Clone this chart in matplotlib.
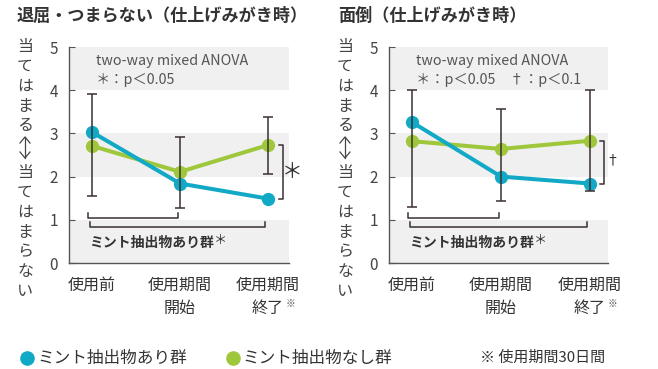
import matplotlib.pyplot as plt
from matplotlib.lines import Line2D

plt.rcParams['font.family'] = ['Noto Sans CJK JP', 'DejaVu Sans']

W, H = 658, 369

stages = ['使用前', '使用期間\n開始', '使用期間\n終了']
blue_c = '#12a9c6'
green_c = '#9fc73b'
bar_c = '#3a3030'

# 退屈・つまらない
bored_mint = [3.03, 1.84, 1.49]
bored_none = [2.71, 2.11, 2.73]
bored_hi = [3.92, 2.92, 3.38]
bored_lo = [1.55, 1.27, 2.07]

# 面倒
hassle_mint = [3.26, 2.00, 1.84]
hassle_none = [2.82, 2.64, 2.83]
hassle_hi = [4.01, 3.57, 4.00]
hassle_lo = [1.30, 1.44, 1.67]

fig = plt.figure(figsize=(W / 100, H / 100), dpi=100)


def fx(x):
    return x / W


def fy(y):
    return 1 - y / H


def panel(left, right, x0, step, mint, none, hi, lo, legend2, mark, bracket):
    ax = fig.add_axes([fx(left), fy(263), fx(right - left), fy(47) - fy(263)])
    ax.set_xlim(-(x0 - left) / step, (right - x0) / step)
    ax.set_ylim(0, 5)
    for a, b in [(0, 1), (2, 3), (4, 5)]:
        ax.axhspan(a, b, color='#f0f0f0', lw=0, zorder=0)
    for s in ['top', 'right']:
        ax.spines[s].set_visible(False)
    for s in ['left', 'bottom']:
        ax.spines[s].set_color('#555555')
        ax.spines[s].set_linewidth(1.0)
    ax.set_yticks(range(6))
    ax.tick_params(axis='y', direction='in', length=4, color='#555555',
                   labelsize=11, labelcolor='#444444', pad=8)
    ax.set_xticks(range(3))
    ax.set_xticklabels(stages, fontsize=11.5, color='#333333', linespacing=1.45)
    ax.tick_params(axis='x', length=0, pad=10)

    xs = list(range(3))
    ax.plot(xs, none, color=green_c, lw=2.9, marker='o', ms=8.5, zorder=3)
    ax.plot(xs, mint, color=blue_c, lw=2.9, marker='o', ms=8.5, zorder=4)
    err = [[n - l for n, l in zip(none, lo)], [h - n for n, h in zip(none, hi)]]
    ax.errorbar(xs, none, yerr=err, fmt='none', ecolor=bar_c, elinewidth=1.1,
                capsize=3.5, capthick=1.1, zorder=5)

    # 右側の群間比較ブラケット
    bx = bracket
    ax.plot([bx - 0.05, bx, bx, bx - 0.05], [none[2], none[2], mint[2], mint[2]],
            color=bar_c, lw=1.1, clip_on=False)
    if mark == '*':
        ax.text(bx + 0.1, (none[2] + mint[2]) / 2, '＊', fontsize=15, color='#333333',
                ha='center', va='center', clip_on=False)
    else:
        ax.text(bx + 0.09, (none[2] + mint[2]) / 2 + 0.04, '†', fontsize=10, color='#333333',
                ha='center', va='center', clip_on=False)

    # 群内比較ブラケット
    ax.plot([-0.05, -0.05, 0.98, 0.98], [1.15, 1.04, 1.04, 1.15], color=bar_c, lw=1.1)
    ax.plot([-0.02, -0.02, 1.97, 1.97], [0.94, 0.83, 0.83, 0.94], color=bar_c, lw=1.1)
    t = ax.text(-0.03, 0.46, 'ミント抽出物あり群', fontsize=10, fontweight='bold',
                color='#333333', ha='left', va='center')
    ax.annotate('＊', xy=(1, 0.5), xycoords=t, xytext=(0, 2), textcoords='offset points',
                fontsize=9.5, color='#333333', ha='left', va='center')

    ax.text(0.04, 4.68, 'two-way mixed ANOVA', fontsize=10.3, color='#555555',
            ha='left', va='center')
    ax.text(0.04, 4.24, legend2, fontsize=10.3, color='#555555', ha='left', va='center')

    # 終了の注記
    ax.annotate('※', xy=(2, 0), xycoords='data', xytext=(13, -29.5), textcoords='offset points',
                fontsize=7, color='#555555', ha='left', va='center')
    return ax


panel(69, 289, 92, 88, bored_mint, bored_none, bored_hi, bored_lo,
      '＊：p＜0.05', '*', 2.17)
panel(389, 608, 412, 89, hassle_mint, hassle_none, hassle_hi, hassle_lo,
      '＊：p＜0.05　†：p＜0.1', '+', 2.16)

fig.text(fx(17), fy(16), '退屈・つまらない（仕上げみがき時）', fontsize=12.3, fontweight='bold',
         color='#333333', ha='left', va='center')
fig.text(fx(338), fy(16), '面倒（仕上げみがき時）', fontsize=12.3, fontweight='bold',
         color='#333333', ha='left', va='center')

# 縦書きの軸ラベル（間に上下の矢印）
for lx in (25, 345):
    fig.text(fx(lx), fy(38), '当\nて\nは\nま\nる', fontsize=11.5, color='#444444',
             ha='center', va='top', linespacing=1.22)
    fig.text(fx(lx), fy(164), '当\nて\nは\nま\nら\nな\nい', fontsize=11.5, color='#444444',
             ha='center', va='top', linespacing=1.22)
    arrow_kw = dict(color='#444444', lw=0.9, transform=fig.transFigure)
    fig.add_artist(Line2D([fx(lx), fx(lx)], [fy(137), fy(158)], **arrow_kw))
    fig.add_artist(Line2D([fx(lx - 5), fx(lx), fx(lx + 5)], [fy(143), fy(137), fy(143)], **arrow_kw))
    fig.add_artist(Line2D([fx(lx - 5), fx(lx), fx(lx + 5)], [fy(152), fy(158), fy(152)], **arrow_kw))

# 凡例
fig.add_artist(Line2D([fx(27)], [fy(358)], marker='o', ms=9.5, color=blue_c, lw=0))
fig.text(fx(37), fy(358), 'ミント抽出物あり群', fontsize=12, color='#333333',
         ha='left', va='center')
fig.add_artist(Line2D([fx(233)], [fy(358)], marker='o', ms=9.5, color=green_c, lw=0))
fig.text(fx(242), fy(358), 'ミント抽出物なし群', fontsize=12, color='#333333',
         ha='left', va='center')
fig.text(fx(480), fy(358), '※ 使用期間30日間', fontsize=10.8, color='#333333',
         ha='left', va='center')

fig.savefig('out.png', dpi=100)
